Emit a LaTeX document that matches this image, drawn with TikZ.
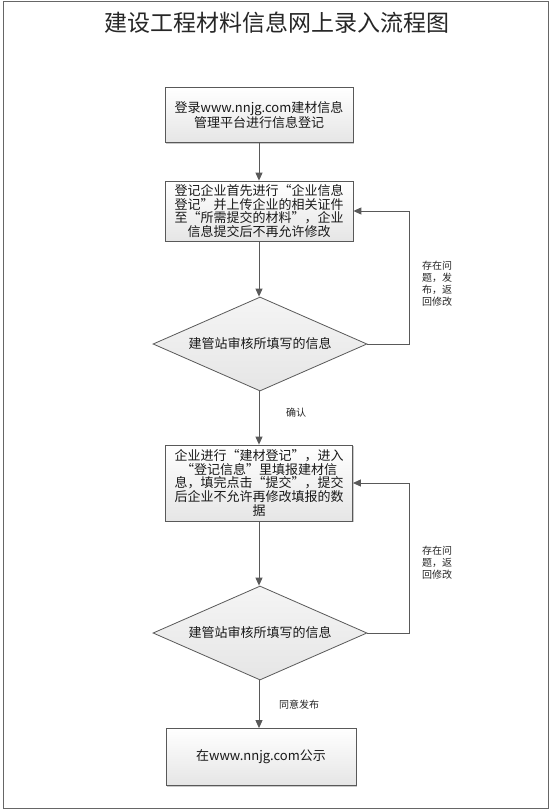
\documentclass[tikz,border=0pt]{standalone}
\usepackage{fontspec}
\setmainfont{Noto Sans CJK SC}
\newfontfamily\cjkfw[RawFeature=+fwid]{Noto Sans CJK SC}
\usetikzlibrary{shapes.geometric,arrows.meta,shadows}
\newcommand\lqq{{\cjkfw “}}
\newcommand\rqq{{\cjkfw ”}}
\begin{document}
\begin{tikzpicture}[x=1pt,y=-1pt,
  procbox/.style={draw=black!65, line width=0.8pt, top color=white, bottom color=black!10,
    drop shadow={shadow xshift=1.3pt, shadow yshift=-1.3pt, opacity=0.35, fill=black!60},
    align=center, inner sep=0pt, text=black!90, font=\fontsize{13}{13.6}\selectfont},
  decision/.style={diamond, draw=black!65, line width=0.8pt, top color=black!4, bottom color=black!10,
    aspect=2.28, minimum width=214pt, minimum height=94pt, inner sep=0pt,
    text=black!90, font=\fontsize{13}{13.6}\selectfont},
  flow/.style={draw=black!65, line width=0.9pt, -{Triangle[length=8pt,width=7pt]}},
  lab/.style={font=\fontsize{10}{12}\selectfont, align=left, inner sep=0pt, text=black!85}]
\useasboundingbox (0,0) rectangle (552,811);
\fill[white] (0,0) rectangle (552,811);
\draw[black!60, line width=0.8pt] (3.5,1) rectangle (548,808);

\node[font=\fontsize{23}{25}\selectfont, text=black!85] (title) at (277,23) {建设工程材料信息网上录入流程图};

\node[procbox, minimum width=188pt, minimum height=55pt] (b1) at (259,115)
  {登录www.nnjg.com建材信息\\管理平台进行信息登记};
\node[procbox, minimum width=188pt, minimum height=60pt] (b2) at (259,211)
  {登记企业首先进行\lqq 企业信息\\登记\rqq 并上传企业的相关证件\\至\lqq 所需提交的材料\rqq ，企业\\信息提交后不再允许修改};
\node[decision] (d1) at (260,344) {建管站审核所填写的信息};
\node[procbox, minimum width=187pt, minimum height=76pt] (b3) at (259,483)
  {企业进行\lqq 建材登记\rqq ，进入\\\lqq 登记信息\rqq 里填报建材信\\息，填完点击\lqq 提交\rqq ，提交\\后企业不允许再修改填报的数\\据};
\node[decision] (d2) at (260,633) {建管站审核所填写的信息};
\node[procbox, minimum width=190pt, minimum height=57pt] (b4) at (261,757)
  {在www.nnjg.com公示};

\draw[flow] (b1.south -| 259,0) -- (b2.north -| 259,0);
\draw[flow] (b2.south -| 259,0) -- (d1.north -| 259,0);
\draw[flow] (d1.south -| 259,0) -- node[lab, pos=0.4, xshift=37pt] (ok) {确认} (b3.north -| 259,0);
\draw[flow] (b3.south -| 259,0) -- (d2.north -| 259,0);
\draw[flow] (d2.south -| 259,0) -- node[lab, midway, xshift=40pt] (pub) {同意发布} (b4.north -| 259,0);

\draw[flow] (d1.east) -- ++(42,0) coordinate (r1) |- (b2.east);
\draw[flow] (d2.east) -- ++(42,0) coordinate (r2) |- (b3.east);

\node[lab, anchor=west] (l1) at (422,284) {存在问\\题，发\\布，返\\回修改};
\node[lab, anchor=west] (l2) at (422,563) {存在问\\题，返\\回修改};
\end{tikzpicture}
\end{document}
